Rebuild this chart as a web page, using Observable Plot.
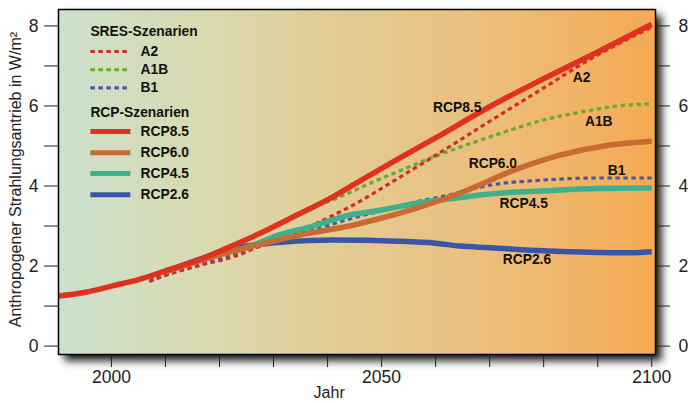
<!DOCTYPE html>
<html><head><meta charset="utf-8">
<script src="https://cdn.jsdelivr.net/npm/d3@7"></script>
<script src="https://cdn.jsdelivr.net/npm/@observablehq/plot@0.6"></script>
<style>
html,body{margin:0;padding:0;background:#fff}
[aria-label="shadow"]{filter:blur(4px)}
</style></head><body><div id="chart"></div>
<script>
const rcp85Years=[1990,1995,2000,2005,2010,2016.5,2022.6,2028.8,2035,2041,2047.3,2053.4,2060,2070,2080,2090,2100];
const rcp85=[1.25,1.34,1.5,1.66,1.88,2.17,2.52,2.9,3.32,3.73,4.23,4.7,5.2,5.98,6.68,7.35,8.04];
const rcp60Years=[2010,2020,2025.7,2035,2044,2050,2056.5,2064.5,2075,2083,2092,2100];
const rcp60=[1.86,2.28,2.48,2.78,3.0,3.2,3.45,3.82,4.42,4.77,5.02,5.12];
const rcp45Years=[2010,2020,2025.7,2031,2036.8,2044,2050,2056.5,2064,2070,2080,2090,2100];
const rcp45=[1.86,2.3,2.5,2.78,2.98,3.27,3.4,3.57,3.7,3.8,3.88,3.94,3.95];
const rcp26Years=[2010,2020,2025,2032,2041,2053,2060,2064.5,2070,2080,2090,2095,2100];
const rcp26=[1.86,2.33,2.5,2.6,2.65,2.62,2.57,2.5,2.46,2.38,2.34,2.33,2.36];
const a2Years=[2007,2010,2016.5,2024.4,2026,2030,2034,2038,2044,2053.4,2061,2071,2080,2089,2100];
const a2=[1.62,1.77,2.02,2.32,2.42,2.62,2.82,3.07,3.47,4.22,4.85,5.7,6.45,7.2,7.97];
const a1bYears=[2007,2010,2020,2030,2038,2041.8,2048.4,2052.3,2059.5,2071,2080,2089,2095,2100];
const a1b=[1.68,1.86,2.35,2.98,3.5,3.7,4.1,4.32,4.72,5.27,5.65,5.9,6.02,6.05];
const b1Years=[2007,2010,2020,2030,2037.4,2044.7,2050,2058,2061,2070,2080,2090,2100];
const b1=[1.62,1.77,2.17,2.6,2.9,3.2,3.38,3.65,3.73,4.02,4.15,4.2,4.2];

const labelNames=["RCP8.5","A2","A1B","RCP6.0","B1","RCP4.5","RCP2.6"];
const labelYears=[2064,2087,2090.2,2070.6,2093.5,2076.3,2076.9];
const labelValues=[5.97,6.7,5.61,4.55,4.39,3.55,2.15];

const legendTitles=["SRES-Szenarien","RCP-Szenarien"];
const legendTitleValues=[7.85,5.83];
const legendNames=["A2","A1B","B1","RCP8.5","RCP6.0","RCP4.5","RCP2.6"];
const legendValues=[7.36,6.91,6.45,5.36,4.83,4.31,3.78];

const colors={RCP85:"#e0301e",RCP60:"#c96b30",RCP45:"#3fb08c",RCP26:"#3b55a6",A2:"#cc2f2a",A1B:"#6aab2d",B1:"#4a5aa2"};
const rows=(x,y)=>x.map((d,i)=>({year:d,value:y[i]}));
const solid=(x,y,c)=>Plot.line(rows(x,y),{x:"year",y:"value",stroke:c,strokeWidth:5.5,curve:"monotone-x",strokeLinecap:"butt",clip:true});
const dotted=(x,y,c)=>Plot.line(rows(x,y),{x:"year",y:"value",stroke:c,strokeWidth:3.2,strokeDasharray:"4.5,3.5",curve:"monotone-x",strokeLinecap:"butt"});

const legendColors=[colors.A2,colors.A1B,colors.B1,colors.RCP85,colors.RCP60,colors.RCP45,colors.RCP26];
const legendLines=legendNames.map((n,i)=>({name:n,value:legendValues[i],c:legendColors[i]}));

const gradient=()=>{
  const d=d3.create("svg:defs");
  const g=d.append("linearGradient").attr("id","bg").attr("x1",0).attr("x2",1).attr("y1",0).attr("y2",0);
  [[0,"#cbe1cd"],[.24,"#d9dab0"],[.46,"#e2cc96"],[.76,"#edbc76"],[1,"#f6a952"]].forEach(([o,c])=>g.append("stop").attr("offset",o).attr("stop-color",c));
  return d.node();
};
const evenOnly=d=>d%2===0?d:"";
const axisOpts={ticks:d3.range(0,9),tickSize:14,fontSize:17.5,tickFormat:evenOnly,label:null,stroke:"#222",color:"#222"};

const plot=Plot.plot({
  width:688,height:403,marginLeft:58,marginRight:33,marginTop:9,marginBottom:49,
  style:{fontFamily:"'Liberation Sans',Arial,sans-serif",background:"#fff",color:"#111"},
  x:{domain:[1990.2,2100.7]},
  y:{domain:[-0.21,8.41]},
  marks:[
    gradient,
    Plot.frame({fill:"#111",stroke:"none",dx:6,dy:6,ariaLabel:"shadow"}),
    Plot.frame({fill:"url(#bg)",stroke:"none"}),
    Plot.axisY({...axisOpts,anchor:"left",tickPadding:6}),
    Plot.axisY({...axisOpts,anchor:"right",tickPadding:9}),
    Plot.axisX({anchor:"bottom",ticks:d3.range(2000,2101,10),tickSize:13,tickPadding:3,fontSize:17.5,label:null,stroke:"#222",color:"#222",
      tickFormat:d=>d%50===0?String(d):""}),
    solid(rcp26Years,rcp26,colors.RCP26),
    dotted(a1bYears,a1b,colors.A1B),
    dotted(b1Years,b1,colors.B1),
    dotted(a2Years,a2,colors.A2),
    solid(rcp45Years,rcp45,colors.RCP45),
    solid(rcp60Years,rcp60,colors.RCP60),
    solid(rcp85Years,rcp85,colors.RCP85),
    Plot.text(labelNames,{x:(d,i)=>labelYears[i],y:(d,i)=>labelValues[i],text:d=>d,fontWeight:"bold",fontSize:13.8,fill:"#111"}),
    Plot.link(legendLines.slice(0,3),{x1:1996.1,x2:2003,y1:"value",y2:"value",stroke:"c",strokeWidth:3.2,strokeDasharray:"4.5,3.5"}),
    Plot.link(legendLines.slice(3),{x1:1996.1,x2:2003.5,y1:"value",y2:"value",stroke:"c",strokeWidth:5}),
    Plot.text(legendNames,{x:2005.4,y:(d,i)=>legendValues[i],text:d=>d,textAnchor:"start",fontWeight:"bold",fontSize:13.8,fill:"#111"}),
    Plot.text(legendTitles,{x:1996.1,y:(d,i)=>legendTitleValues[i],text:d=>d,textAnchor:"start",fontWeight:"bold",fontSize:13.8,fill:"#111"}),
    Plot.text(["Jahr"],{x:2040.3,frameAnchor:"bottom",dy:43,text:d=>d,fontSize:16,fill:"#222"}),
    Plot.text(["Anthropogener Strahlungsantrieb in W/m²"],{y:4.16,frameAnchor:"left",textAnchor:"middle",dx:-43,rotate:-90,text:d=>d,fontSize:16,fill:"#222"}),
    Plot.frame({stroke:"#000",strokeWidth:1.5})
  ]
});
document.getElementById("chart").appendChild(plot);
</script></body></html>
